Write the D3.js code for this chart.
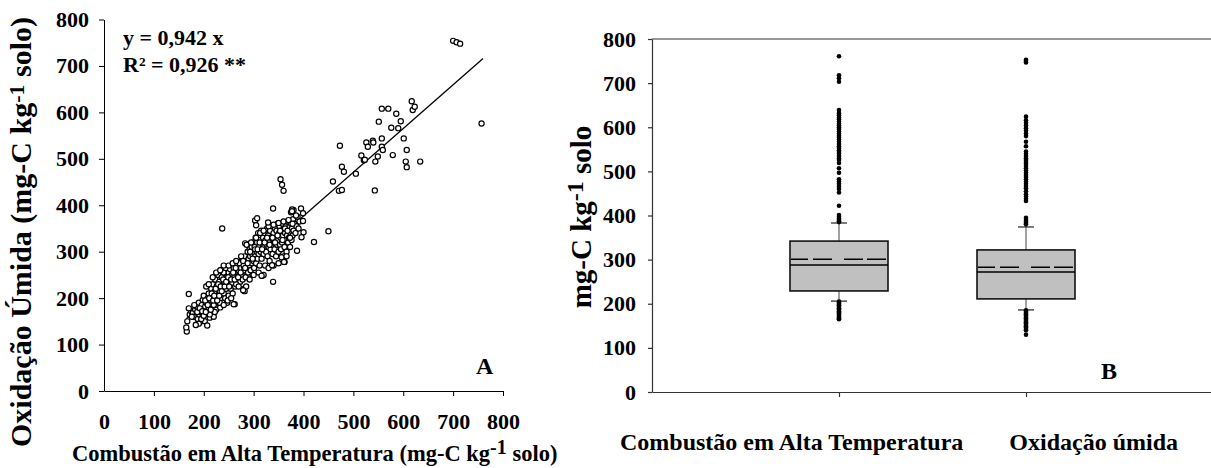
<!DOCTYPE html>
<html><head><meta charset="utf-8">
<script src="https://cdn.jsdelivr.net/npm/d3@7"></script>
<style>
body{margin:0;background:#fff;}
svg{display:block;}
text{font-family:"Liberation Serif","Times New Roman",serif;font-weight:bold;fill:#000;}
</style></head><body>
<svg id="c" width="1211" height="468"></svg>
<script>
// ---------- DATA ----------
const axisTicks = [0,100,200,300,400,500,600,700,800];
// scatter: [Combustão em Alta Temperatura, Oxidação Úmida]
const scatterOuter = [
[700,754],[707,751],[714,748],[757,576],[617,624],[619,605],[623,612],[557,608],[570,608],
[586,597],[551,580],[595,581],[576,567],[590,566],[557,544],[601,544],[473,528],[526,535],
[539,539],[540,535],[529,526],[557,526],[559,519],[607,519],[516,507],[579,508],[549,505],
[521,497],[523,498],[544,494],[605,494],[634,494],[607,482],[477,483],[481,472],[505,468],
[459,451],[471,431],[477,433],[543,432],[354,456],[357,444],[360,431],[450,344],[421,321],
[237,350],[339,393],[339,235],[260,187],[170,209],[166,128],[165,137],[167,150],[207,141],
[184,142],[387,302],[361,278],[337,271],[316,248],[279,217],[395,393],[399,383],[399,366],
[400,342],[396,331],[377,391],[377,387],[303,367],[307,372],[305,357],[329,363]
];
const scatterCluster = [
[172,165],[175,172],[170,178],[178,168],[180,160],[183,175],[185,143],[186,182],[188,155],
[190,190],[191,165],[193,170],[195,150],[196,185],[198,160],[198,196],[200,175],[200,205],
[202,150],[203,182],[205,190],[206,168],[208,200],[210,210],[210,178],[212,158],[213,188],
[215,220],[215,195],[217,170],[218,230],[218,205],[220,185],[220,160],[222,215],[223,240],
[224,196],[225,175],[226,225],[228,205],[229,250],[230,190],[231,235],[232,215],[233,180],
[235,260],[235,200],[236,245],[237,225],[238,190],[240,210],[240,255],[241,235],[243,200],
[244,265],[245,220],[246,245],[247,190],[248,230],[250,255],[250,205],[252,240],[253,262],
[254,220],[256,250],[257,232],[258,210],[260,265],[261,245],[262,187],[263,225],[265,255],
[266,270],[267,240],[268,230],[270,260],[271,250],[272,275],[273,235],[275,265],[276,250],
[277,285],[278,240],[280,270],[280,220],[281,260],[282,290],[283,318],[284,245],[285,280],
[286,315],[287,265],[288,300],[289,255],[290,285],[291,270],[292,305],[293,290],[294,260],
[295,275],[296,310],[297,295],[298,250],[299,320],[300,280],[300,300],[301,265],[302,310],
[303,290],[304,330],[305,275],[306,300],[307,320],[308,285],[309,340],[310,295],[311,310],
[312,270],[313,325],[314,300],[315,345],[316,285],[317,248],[318,315],[319,330],[320,295],
[321,310],[322,340],[323,270],[324,325],[325,300],[326,315],[327,350],[328,290],[329,335],
[330,310],[331,325],[332,280],[333,345],[334,305],[335,330],[336,315],[337,355],[338,295],
[340,340],[341,320],[342,305],[343,350],[344,330],[345,290],[346,345],[347,315],[348,360],
[349,325],[350,300],[351,340],[352,355],[353,315],[354,330],[355,305],[356,345],[357,320],
[358,360],[359,335],[360,290],[361,350],[362,310],[363,340],[364,325],[365,355],[366,300],
[367,335],[368,365],[369,320],[370,345],[371,330],[372,355],[373,310],[374,340],[375,360],
[376,325],[377,350],[378,335],[379,370],[380,345],[382,360],[384,340],[386,355],[388,375],
[390,350],[392,365],[356,288],[362,278],[366,290],
[190,145],[195,155],[200,162],[212,165],[222,170],[232,190],[240,185],[248,195],[255,200],
[265,230],[270,225],[282,215],[285,225],[292,240],[300,250],[310,255],[320,250],[330,265],
[340,270],[350,275],
[205,225],[210,230],[218,245],[225,255],[233,260],[240,270],[250,270],[258,275],[265,280],
[275,290],[295,320],[305,330],[313,340],[320,345],[330,355],[340,358],[350,362],[360,365],
[370,368],[375,385],[380,390],[385,378],
[176,160],[181,185],[187,170],[192,178],[197,172],[203,195],[204,170],[208,185],[211,200],
[214,175],[216,210],[219,195],[221,205],[224,220],[227,195],[229,230],[231,205],[234,225],
[236,215],[239,240],[242,225],[245,235],[249,245],[251,225],[255,240],[259,255],[262,240],
[264,265],[269,245],[274,255],[279,280],[283,265],[288,275],[293,300],[298,285],[303,305],
[308,305],[312,320],[317,305],[322,320],[327,330],[332,315],[338,330],[343,320],[348,335],
[353,345],[358,325],[363,350],[368,345],[373,330],[378,360]
];
const regSlope = 0.942;
const regRange = [165, 760];

// box plot (panel B)
const boxCats = ["Combustão em Alta Temperatura", "Oxidação úmida"];
const boxQ1 = [229, 211];
const boxMedian = [288, 272];
const boxQ3 = [342, 322];
const boxMean = [301, 283];
const boxWhiskLo = [206, 186];
const boxWhiskHi = [383, 374];
const outliersComb = [761,718,711,703,639,632,627,622,618,613,608,604,600,596,591,586,581,577,
  572,567,562,557,553,548,544,540,535,530,526,519,507,497,482,477,472,466,460,452,422,401,397,
  393,390,387,385, 205,203,200,198,196,193,190,188,186,183,180,178,175,172,170,167,165];
const outliersOxi = [753,750,747,624,616,610,604,598,592,586,580,567,557,545,540,535,530,526,
  521,517,512,507,502,497,492,487,482,477,472,467,462,455,448,443,438,433,395,390,386,383,380,
  185,182,179,176,173,170,167,164,161,158,155,152,149,146,143,140,130];

// ---------- DRAW ----------
const svg = d3.select("#c");

// ===== Panel A =====
const xA = d3.scaleLinear().domain([0,800]).range([104,503]);
const yA = d3.scaleLinear().domain([0,800]).range([391,19.5]);
const gA = svg.append("g");

const axA_y = gA.append("g").attr("transform","translate(104,0)")
  .call(d3.axisLeft(yA).tickValues(axisTicks).tickSize(5).tickSizeOuter(0).tickPadding(10));
const axA_x = gA.append("g").attr("transform","translate(0,391)")
  .call(d3.axisBottom(xA).tickValues(axisTicks).tickSize(5).tickSizeOuter(0).tickPadding(17));
[axA_y, axA_x].forEach(a=>{
  a.selectAll("path,line").attr("stroke","#000").attr("stroke-width",1);
  a.selectAll("text").style("font-size","22px").attr("fill","#000");
});
axA_x.selectAll(".tick").filter(d=>d===0).select("line").remove();

// regression line
gA.append("line")
  .attr("x1",xA(regRange[0])).attr("y1",yA(regSlope*regRange[0]))
  .attr("x2",xA(regRange[1])).attr("y2",yA(regSlope*regRange[1]))
  .attr("stroke","#000").attr("stroke-width",1.3);

const allPts = scatterCluster.concat(scatterOuter);
gA.append("g").selectAll("circle").data(allPts).join("circle")
  .attr("cx",d=>xA(d[0])).attr("cy",d=>yA(d[1])).attr("r",2.6)
  .attr("fill","#fff").attr("stroke","#000").attr("stroke-width",1.2);

gA.append("text").attr("x",123).attr("y",45).style("font-size","22px").text("y = 0,942 x");
gA.append("text").attr("x",123).attr("y",72).style("font-size","22px").text("R² = 0,926 **");
gA.append("text").attr("x",476).attr("y",374).style("font-size","24px").text("A");

// titles
const tx = gA.append("text").attr("x",72).attr("y",461).style("font-size","22.5px");
tx.append("tspan").text("Combustão em Alta Temperatura (mg-C kg");
tx.append("tspan").attr("dy",-7).style("font-size","20px").text("-1");
tx.append("tspan").attr("dy",7).text(" solo)");

const ty = gA.append("text").attr("transform","translate(31,232) rotate(-90)")
  .attr("text-anchor","middle").style("font-size","30px");
ty.append("tspan").text("Oxidação Úmida (mg-C kg");
ty.append("tspan").attr("dy",-7).style("font-size","22px").text("-1");
ty.append("tspan").attr("dy",7).text(" solo)");

// ===== Panel B =====
const xB = d3.scalePoint().domain(boxCats).range([652,1213]).padding(1);
const yB = d3.scaleLinear().domain([0,800]).range([392,39]);
const gB = svg.append("g");
const lineCol = "#333";

const axB_y = gB.append("g").attr("transform","translate(652,0)")
  .call(d3.axisLeft(yB).tickValues(axisTicks).tickSize(4).tickSizeOuter(0).tickPadding(12));
axB_y.selectAll("path,line").attr("stroke",lineCol).attr("stroke-width",1.2);
axB_y.selectAll("text").style("font-size","22px").attr("fill","#000");

const axB_x = gB.append("g").attr("transform","translate(0,392)")
  .call(d3.axisBottom(xB).tickSize(5).tickSizeOuter(0).tickFormat(""));
axB_x.selectAll("path,line").attr("stroke",lineCol).attr("stroke-width",1.2);
gB.append("line").attr("x1",652).attr("x2",1213).attr("y1",yB(800)).attr("y2",yB(800))
  .attr("stroke",lineCol).attr("stroke-width",1.2);

const bw = 98;
boxCats.forEach((c,i)=>{
  const cx = xB(c);
  const g = gB.append("g");
  g.append("line").attr("x1",cx).attr("x2",cx).attr("y1",yB(boxQ3[i])).attr("y2",yB(boxWhiskHi[i]))
    .attr("stroke","#444").attr("stroke-width",1);
  g.append("line").attr("x1",cx).attr("x2",cx).attr("y1",yB(boxQ1[i])).attr("y2",yB(boxWhiskLo[i]))
    .attr("stroke","#444").attr("stroke-width",1);
  [boxWhiskHi[i], boxWhiskLo[i]].forEach(v=>{
    g.append("line").attr("x1",cx-8).attr("x2",cx+8).attr("y1",yB(v)).attr("y2",yB(v))
      .attr("stroke","#222").attr("stroke-width",1.2);
  });
  g.append("rect").attr("x",cx-bw/2).attr("width",bw)
    .attr("y",yB(boxQ3[i])).attr("height",yB(boxQ1[i])-yB(boxQ3[i]))
    .attr("fill","#c0c0c0").attr("stroke","#111").attr("stroke-width",1.6);
  g.append("line").attr("x1",cx-bw/2).attr("x2",cx+bw/2).attr("y1",yB(boxMedian[i])).attr("y2",yB(boxMedian[i]))
    .attr("stroke","#000").attr("stroke-width",1.5);
  g.append("line").attr("x1",cx-bw/2+1).attr("x2",cx+bw/2-1).attr("y1",yB(boxMean[i])).attr("y2",yB(boxMean[i]))
    .attr("stroke","#000").attr("stroke-width",1.5).attr("stroke-dasharray","17,5,19,12,19,4,19");
  const outs = i===0 ? outliersComb : outliersOxi;
  g.append("g").selectAll("circle").data(outs).join("circle")
    .attr("cx",cx).attr("cy",d=>yB(d)).attr("r",2.3).attr("fill","#000");
});

gB.append("text").attr("x",1101).attr("y",379).style("font-size","24px").text("B");

gB.append("text").attr("x",620).attr("y",450).style("font-size","24px").text(boxCats[0]);
gB.append("text").attr("x",1178).attr("y",450).attr("text-anchor","end").style("font-size","24px").text(boxCats[1]);

const tyB = gB.append("text").attr("transform","translate(591,217) rotate(-90)")
  .attr("text-anchor","middle").style("font-size","29px");
tyB.append("tspan").text("mg-C kg");
tyB.append("tspan").attr("dy",-8).style("font-size","24px").text("-1");
tyB.append("tspan").attr("dy",8).text(" solo");
</script>
</body></html>
